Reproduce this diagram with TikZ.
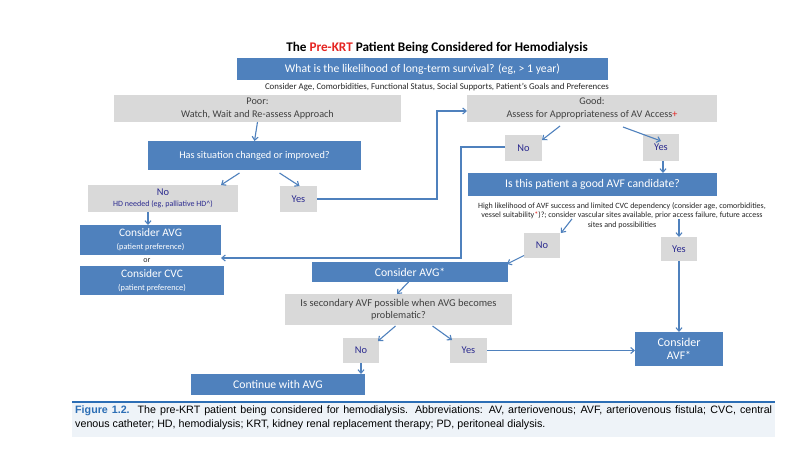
\documentclass[tikz,border=0pt]{standalone}
\usepackage{fontspec}
\setmainfont{Carlito}
\newfontfamily\capfont{Liberation Sans}
\usetikzlibrary{arrows.meta,calc}
\definecolor{boxblue}{HTML}{4F81BD}
\definecolor{boxgray}{HTML}{D9D9D9}
\definecolor{lineblue}{HTML}{4F81BD}
\definecolor{ynblue}{HTML}{2B2A8F}
\definecolor{txtgray}{HTML}{404040}
\definecolor{krtred}{HTML}{E52421}
\definecolor{capblue}{HTML}{2C6EB5}
\definecolor{capbg}{HTML}{EEF3F8}
\newcommand\fsz[2]{\fontsize{#1}{#2}\selectfont}
\newcommand\boxat[7]{\node[#2, minimum width={(#5-#3)*1pt}, minimum height={(#6-#4)*1pt}] (#1) at ({(#3+#5)/2},{(#4+#6)/2}) {#7};}
\begin{document}
\begin{tikzpicture}[x=1pt,y=-1pt,
  basebox/.style={inner sep=0pt, outer sep=0pt, align=center, draw=none},
  bluebox/.style={basebox, fill=boxblue, text=white, font=\fsz{11.7}{13}},
  graybox/.style={basebox, fill=boxgray, text=txtgray, font=\fsz{10.2}{12.5}},
  ynbox/.style={basebox, fill=boxgray, text=ynblue, font=\fsz{10.4}{11}},
  conn/.style={draw=lineblue, line width=1.1pt, -{Straight Barb[length=3.5pt,width=6pt,line width=1.1pt]}}]
\useasboundingbox (0,0) rectangle (800,450);
\fill[white] (0,0) rectangle (800,450);

% title
\node[inner sep=0pt, font=\fsz{13.2}{15}\bfseries] (title) at (437,48) {The {\color{krtred}Pre-KRT} Patient Being Considered for Hemodialysis};

% boxes
\boxat{q1}{bluebox}{237}{58}{608}{80}{What is the likelihood of long-term survival? (eg, {>} 1 year)}
\node[inner sep=0pt, font=\fsz{8.85}{10}, text=black!85] (sub) at (437,87) {Consider Age, Comorbidities, Functional Status, Social Supports, Patient's Goals and Preferences};

\boxat{poor}{graybox}{114}{95}{401}{122}{Poor:\\Watch, Wait and Re-assess Approach}
\boxat{good}{graybox}{467}{95}{717}{122}{Good:\\Assess for Appropriateness of AV Access{\color{krtred}+}}
\boxat{hassit}{bluebox}{148}{141}{361}{170}{\fsz{10.3}{12}Has situation changed or improved?}
\boxat{nohd}{ynbox}{88}{185}{238}{212}{\fsz{10.4}{11}No\\{\fsz{8}{11}HD needed (eg, palliative HD\textasciicircum)}}
\boxat{yesa}{ynbox}{280}{186}{317}{212}{Yes}
\boxat{nob}{ynbox}{505}{135}{542}{161}{No}
\boxat{yesb}{ynbox}{643}{134}{679}{161}{Yes}
\boxat{avfc}{bluebox}{468}{173}{717}{196}{Is this patient a good AVF candidate?}
\node[inner sep=0pt, align=center, font=\fsz{8}{9.6}, text=black!85] (desc) at (622,215.5) {High likelihood of AVF success and limited CVC dependency (consider age, comorbidities,\\vessel suitability{\color{krtred}*})?; consider vascular sites available, prior access failure, future access\\sites and possibilities};
\boxat{noc}{ynbox}{524}{233}{560}{258}{No}
\boxat{yesc}{ynbox}{661}{237}{697}{261}{Yes}
\boxat{cavg}{bluebox}{80}{225}{221}{255}{\fsz{11.4}{12}Consider AVG\\{\fsz{8.3}{12}(patient preference)}}
\node[inner sep=0pt, font=\fsz{8}{9}, text=black!85] (or) at (147,261) {or};
\boxat{ccvc}{bluebox}{80}{266}{224}{295}{\fsz{11.4}{12}Consider CVC\\{\fsz{8.3}{12}(patient preference)}}
\boxat{cavgs}{bluebox}{312}{262}{508}{282}{Consider AVG*}
\boxat{q2}{graybox}{285}{294}{512}{325}{\fsz{10.5}{14}Is secondary AVF possible when AVG becomes\\problematic?}
\boxat{nod}{ynbox}{343}{338}{379}{363}{No}
\boxat{yesd}{ynbox}{450}{338}{487}{363}{Yes}
\boxat{cavf}{bluebox}{635}{332}{723}{366}{\fsz{12}{14}Consider\\AVF*}
\boxat{cont}{bluebox}{191}{374}{365}{395}{Continue with AVG}

% connectors
\draw[conn] (poor.south) -- (hassit.north);
\draw[conn] ([xshift=-15pt,yshift=-3pt]hassit.south) -- ([xshift=-17pt]nohd.north east);
\draw[conn] ([xshift=25pt,yshift=-3pt]hassit.south) -- ([xshift=1pt]yesa.north);
\coordinate (j1) at (437,111);
\draw[conn] (yesa.east) -| (j1) -- (good.west |- j1);
\draw[conn] ([xshift=-32pt,yshift=-4pt]good.south) -- ([yshift=-5pt]nob.north east);
\draw[conn] ([xshift=31pt,yshift=-5pt]good.south) -- ([yshift=-7pt]yesb.north);
\draw[conn] ([xshift=2pt]yesb.south) -- ([xshift=2pt]yesb.south |- avfc.north);
\coordinate (j2) at (461,147);
\coordinate (j3) at (461,258);
\draw[conn] (nob.west |- j2) -- (j2) -- (j3) -- (cavg.east |- j3);
\draw[conn] ([xshift=-15pt]nohd.south) -- ([xshift=-15pt]nohd.south |- cavg.north);
\draw[conn] ([xshift=-50pt,yshift=10pt]desc.south) -- ([xshift=1pt]noc.north east);
\draw[conn] ([xshift=57pt,yshift=10pt]desc.south) -- (yesc.north);
\draw[conn] ([yshift=-10pt]noc.west) -- ([xshift=-1pt,yshift=-2pt]cavgs.north east);
\draw[conn] (yesc.south) -- (cavf.north);
\draw[conn] ([xshift=-1.5pt]cavgs.south) -- ([xshift=-1.5pt]q2.north);
\draw[conn] ([xshift=-3pt,yshift=-1pt]q2.south) -- ([xshift=-1pt,yshift=-3pt]nod.north east);
\draw[conn] ([xshift=34pt,yshift=-1pt]q2.south) -- ([xshift=2pt,yshift=-2pt]yesd.north west);
\draw[conn] (yesd.east) -- (cavf.west |- yesd.east);
\draw[conn] (nod.south) -- (nod.south |- cont.north);

% caption
\fill[capbg] (72,402) rectangle (775,437);
\draw[capblue, line width=1.6pt] (72,402) -- (775,402);
\node[anchor=north west, inner sep=0pt, text width=697pt, align=justify, font=\capfont\fsz{10.7}{14.5}] (cap) at (75,405.5)
{{\color{capblue}\bfseries Figure 1.2.}\ \ The pre-KRT patient being considered for hemodialysis. Abbreviations: AV, arteriovenous; AVF, arteriovenous fistula; CVC, central\linebreak venous catheter; HD, hemodialysis; KRT, kidney renal replacement therapy; PD, peritoneal dialysis.};
\end{tikzpicture}
\end{document}
